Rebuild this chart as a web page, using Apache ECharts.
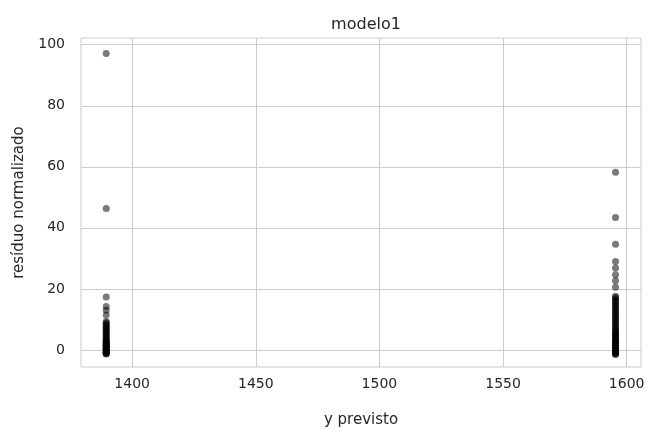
<!DOCTYPE html>
<html>
<head>
<meta charset="utf-8">
<script src="https://cdn.jsdelivr.net/npm/echarts@6/dist/echarts.min.js"></script>
<style>html,body{margin:0;padding:0;background:#fff}#c{width:649px;height:433px}</style>
</head>
<body>
<div id="c"></div>
<script>
// predicted values of the two clusters
const previstos = [1389.5, 1595.5];
// normalized residuals at the left cluster
const residuosEsq = [97.1, 46.3, 17.3, 14.2, 13.0, 11.4,
  9.3, 8.9, 8.5, 8.1, 7.7, 7.3, 6.9, 6.5, 6.1, 5.7, 5.3, 4.9, 4.5, 4.1, 3.7, 3.3, 2.9, 2.5,
  2.1, 1.8, 1.5, 1.2, 0.9, 0.6, 0.3, 0.0, -0.3, -0.6, -0.9, -1.1, -1.3,
  3.0, 2.4, 1.9, 1.4, 1.0, 0.5, 0.1, -0.4, -0.8, -1.2];
// normalized residuals at the right cluster
const residuosDir = [58.2, 43.4, 34.6, 29.0, 26.8, 24.6, 22.7, 20.5, 17.6,
  17.2, 16.7, 16.2, 15.7, 15.2, 14.7, 14.2, 13.7, 13.2, 12.7, 12.2, 11.7, 11.2, 10.7, 10.2,
  9.7, 9.2, 8.7, 8.2, 7.7, 7.2, 6.7, 6.2, 5.7, 5.2, 4.7, 4.2, 3.7, 3.2, 2.7, 2.2, 1.7, 1.2,
  0.7, 0.2, -0.3, -0.7, -1.1, -1.5,
  6.0, 5.0, 4.0, 3.0, 2.5, 2.0, 1.5, 1.0, 0.5, 0.0, -0.5, -1.0, -1.3];
const xTicks = [1400, 1450, 1500, 1550, 1600];
const yTicks = [0, 20, 40, 60, 80, 100];

const pontos = residuosEsq.map(r => [previstos[0], r])
  .concat(residuosDir.map(r => [previstos[1], r]));

const txt = '#262626';
const font = 'DejaVu Sans';
const chart = echarts.init(document.getElementById('c'), null, {renderer: 'canvas'});
chart.setOption({
  animation: false,
  backgroundColor: '#ffffff',
  title: {
    text: 'modelo1', left: 361, top: 12, textAlign: 'center',
    textStyle: {fontFamily: font, fontSize: 16, fontWeight: 'normal', color: txt}
  },
  grid: {left: 81, right: 8, top: 38, bottom: 60, show: true, borderColor: '#cccccc', borderWidth: 1},
  xAxis: {
    type: 'value', min: 1379.3, max: 1605.8,
    name: 'y previsto', nameLocation: 'middle', nameGap: 46,
    nameTextStyle: {fontFamily: font, fontSize: 15, color: txt},
    axisLine: {show: false},
    axisTick: {show: false, customValues: xTicks},
    axisLabel: {customValues: xTicks, formatter: v => String(v), fontFamily: font, fontSize: 14, color: txt, margin: 10},
    splitLine: {show: true, lineStyle: {color: '#cccccc', width: 1}}
  },
  yAxis: {
    type: 'value', min: -5.6, max: 102.2,
    name: 'resíduo normalizado', nameLocation: 'middle', nameGap: 54,
    nameTextStyle: {fontFamily: font, fontSize: 15, color: txt},
    axisLine: {show: false},
    axisTick: {show: false, customValues: yTicks},
    axisLabel: {customValues: yTicks, formatter: v => String(v), fontFamily: font, fontSize: 14, color: txt, margin: 16},
    splitLine: {show: true, lineStyle: {color: '#cccccc', width: 1}}
  },
  series: [{
    type: 'scatter', data: pontos, symbolSize: 7,
    itemStyle: {color: 'rgba(0,0,0,0.65)'}
  }]
});
</script>
</body>
</html>
